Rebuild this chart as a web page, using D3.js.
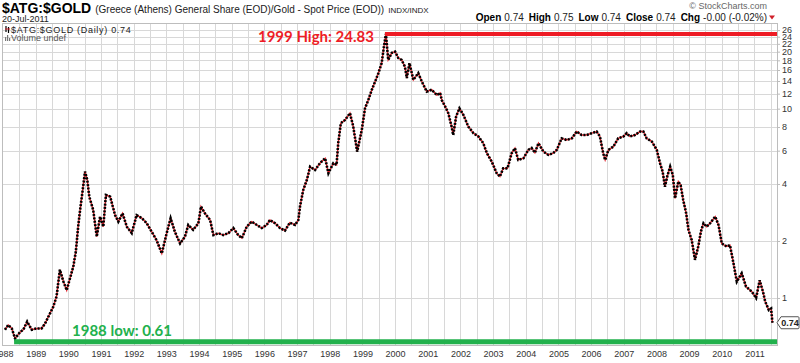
<!DOCTYPE html>
<html>
<head>
<meta charset="utf-8">
<script src="https://cdn.jsdelivr.net/npm/d3@7"></script>
<style>
  body { margin: 0; background: #fff; }
  svg { display: block; font-family: "Liberation Sans", Arial, sans-serif; }
</style>
</head>
<body>
<div class="chart"></div>
<script>
// decimal year and $ATG:$GOLD ratio
const years = [1988.06, 1988.16, 1988.27, 1988.37, 1988.52, 1988.62, 1988.74, 1988.88, 1989.03, 1989.18,
  1989.29, 1989.44, 1989.54, 1989.64, 1989.74, 1989.85, 1989.95, 1990.05, 1990.15, 1990.23,
  1990.30, 1990.36, 1990.44, 1990.51, 1990.58, 1990.64, 1990.76, 1990.87, 1990.97, 1991.07,
  1991.15, 1991.28, 1991.43, 1991.53, 1991.66, 1991.79, 1991.94, 1992.09, 1992.25, 1992.40,
  1992.55, 1992.70, 1992.86, 1993.01, 1993.13, 1993.26, 1993.42, 1993.57, 1993.67, 1993.82,
  1993.98, 1994.06, 1994.18, 1994.34, 1994.44, 1994.59, 1994.74, 1994.90, 1995.05, 1995.20,
  1995.31, 1995.46, 1995.61, 1995.77, 1995.92, 1996.07, 1996.17, 1996.33, 1996.48, 1996.63,
  1996.78, 1996.94, 1997.04, 1997.09, 1997.19, 1997.30, 1997.40, 1997.55, 1997.70, 1997.86,
  1997.96, 1998.11, 1998.21, 1998.26, 1998.34, 1998.47, 1998.62, 1998.72, 1998.80, 1998.84,
  1998.98, 1999.08, 1999.18, 1999.29, 1999.39, 1999.49, 1999.59, 1999.66, 1999.72, 1999.79,
  1999.90, 2000.00, 2000.10, 2000.20, 2000.30, 2000.36, 2000.44, 2000.56, 2000.71, 2000.82,
  2000.97, 2001.12, 2001.28, 2001.38, 2001.43, 2001.53, 2001.63, 2001.73, 2001.78, 2001.87,
  2001.97, 2002.09, 2002.24, 2002.40, 2002.55, 2002.70, 2002.81, 2002.96, 2003.11, 2003.21,
  2003.31, 2003.44, 2003.57, 2003.67, 2003.77, 2003.93, 2004.08, 2004.18, 2004.28, 2004.39,
  2004.54, 2004.69, 2004.84, 2004.95, 2005.10, 2005.25, 2005.41, 2005.56, 2005.71, 2005.87,
  2006.02, 2006.17, 2006.27, 2006.37, 2006.43, 2006.53, 2006.68, 2006.83, 2006.99, 2007.09,
  2007.19, 2007.34, 2007.50, 2007.60, 2007.70, 2007.86, 2008.01, 2008.11, 2008.19, 2008.26,
  2008.33, 2008.42, 2008.50, 2008.57, 2008.67, 2008.74, 2008.82, 2008.91, 2008.98, 2009.08,
  2009.18, 2009.28, 2009.36, 2009.44, 2009.54, 2009.64, 2009.80, 2009.90, 2010.00, 2010.15,
  2010.25, 2010.36, 2010.46, 2010.61, 2010.74, 2010.92, 2011.05, 2011.16, 2011.26, 2011.33,
  2011.44, 2011.51, 2011.55];
const ratio = [0.68, 0.72, 0.69, 0.61, 0.66, 0.68, 0.75, 0.68, 0.69, 0.69,
  0.735, 0.83, 0.90, 1.02, 1.41, 1.22, 1.10, 1.27, 1.46, 1.76,
  2.38, 2.92, 3.72, 4.65, 4.2, 3.43, 2.92, 2.11, 2.69, 2.38,
  3.5, 3.43, 2.74, 2.53, 2.8, 2.38, 2.2, 2.74, 2.64, 2.48,
  2.24, 2.02, 1.72, 2.2, 2.64, 2.24, 1.94, 2.11, 2.43, 2.29,
  2.48, 3.04, 2.8, 2.58, 2.15, 2.2, 2.15, 2.2, 2.34, 2.15,
  2.07, 2.38, 2.53, 2.43, 2.34, 2.43, 2.58, 2.48, 2.34, 2.27,
  2.5, 2.43, 2.58, 3.04, 3.72, 4.2, 4.94, 4.74, 5.15, 5.47,
  4.56, 5.15, 5.05, 6.57, 8.37, 8.72, 9.46, 8.05, 6.57, 5.93,
  7.7, 10.04, 11.1, 12.6, 13.9, 15.4, 17.4, 21.3, 24.83, 18.1,
  19.7, 20.0, 18.5, 18.1, 16.7, 14.5, 17.4, 14.2, 15.4, 13.9,
  12.3, 12.6, 11.8, 12.1, 11.1, 10.3, 9.46, 8.05, 7.26, 9.1,
  10.04, 9.28, 8.05, 7.42, 7.13, 6.57, 5.82, 5.25, 4.56, 4.38,
  4.84, 4.84, 5.82, 6.18, 5.36, 5.47, 6.06, 6.2, 5.85, 6.57,
  5.93, 5.7, 5.82, 6.06, 6.97, 6.83, 6.97, 7.57, 7.26, 7.26,
  7.42, 7.57, 7.13, 5.82, 5.36, 6.06, 6.3, 6.97, 7.13, 7.42,
  7.13, 7.26, 7.57, 7.57, 6.97, 6.7, 6.06, 5.15, 4.65, 3.87,
  4.38, 4.94, 4.47, 3.36, 4.12, 3.95, 3.29, 2.8, 2.29, 2.02,
  1.59, 1.87, 2.24, 2.48, 2.38, 2.48, 2.69, 2.43, 1.94, 1.87,
  1.9, 1.52, 1.22, 1.35, 1.15, 1.08, 1.0, 1.24, 1.08, 0.956,
  0.864, 0.88, 0.74];

const yTicks = [1, 2, 4, 6, 8, 10, 12, 14, 16, 18, 20, 22, 24, 26];
const yearLabels = [1988, 1989, 1990, 1991, 1992, 1993, 1994, 1995, 1996, 1997, 1998, 1999,
  2000, 2001, 2002, 2003, 2004, 2005, 2006, 2007, 2008, 2009, 2010, 2011];

const highValue = 24.83, highYear = 1999.72;
const lowValue = 0.61, lowYear = 1988.37;
const lastValue = 0.74;

const data = years.map((t, i) => ({ t: t, v: ratio[i] }));

const W = 800, H = 363;
const plot = { left: 3, right: 777, top: 24, bottom: 345 };

const svg = d3.select(".chart").append("svg")
    .attr("width", W)
    .attr("height", H);

const x = d3.scaleLinear()
    .domain([1988, 2011.69])
    .range([plot.left, plot.right]);

const y = d3.scaleLog()
    .domain([0.5645, 28])
    .range([plot.bottom, plot.top]);

// grid: half-year verticals, value horizontals
const grid = svg.append("g").attr("stroke", "#d8d8d8").attr("stroke-width", 1);
grid.selectAll(".vg")
    .data(d3.range(1988.5, 2011.6, 0.5))
    .enter().append("line")
    .attr("x1", d => Math.round(x(d)) + 0.5)
    .attr("x2", d => Math.round(x(d)) + 0.5)
    .attr("y1", plot.top)
    .attr("y2", plot.bottom);
grid.selectAll(".hg")
    .data(yTicks)
    .enter().append("line")
    .attr("x1", plot.left)
    .attr("x2", plot.right)
    .attr("y1", d => Math.round(y(d)) + 0.5)
    .attr("y2", d => Math.round(y(d)) + 0.5);

// frame
svg.append("rect")
    .attr("x", plot.left - 0.5)
    .attr("y", plot.top - 0.5)
    .attr("width", plot.right - plot.left + 1)
    .attr("height", plot.bottom - plot.top + 1)
    .attr("fill", "none")
    .attr("stroke", "#bdbdbd");

// right axis
const yAxis = svg.append("g")
    .attr("transform", `translate(${plot.right},0)`)
    .call(d3.axisRight(y).tickValues(yTicks).tickFormat(d3.format("d")).tickSize(3));
yAxis.select(".domain").remove();
yAxis.selectAll("line").attr("stroke", "#bdbdbd");
yAxis.selectAll("text")
    .attr("x", 5)
    .attr("fill", "#333")
    .style("font-size", "9px");

// bottom axis
const xAxis = svg.append("g")
    .attr("transform", `translate(0,${plot.bottom})`)
    .call(d3.axisBottom(x).tickValues(yearLabels).tickFormat(d3.format("d")).tickSize(0));
xAxis.select(".domain").remove();
xAxis.selectAll("text")
    .attr("y", 6)
    .attr("fill", "#333")
    .style("font-size", "9px");

// price series
const line = d3.line()
    .x(d => x(d.t))
    .y(d => y(d.v));

svg.append("path")
    .datum(data)
    .attr("fill", "none")
    .attr("stroke", "#e0202a")
    .attr("stroke-width", 1.4)
    .attr("d", line);

svg.append("path")
    .datum(data)
    .attr("fill", "none")
    .attr("stroke", "#000")
    .attr("stroke-width", 2.6)
    .attr("stroke-dasharray", "2,1.4")
    .attr("d", line);

// high / low annotations
svg.append("line")
    .attr("x1", x(highYear) - 1)
    .attr("x2", plot.right)
    .attr("y1", y(highValue))
    .attr("y2", y(highValue))
    .attr("stroke", "#ee1c25")
    .attr("stroke-width", 4);
svg.append("text")
    .attr("x", x(highYear) - 12)
    .attr("y", y(highValue) + 8)
    .attr("text-anchor", "end")
    .attr("fill", "#ee1c25")
    .style("font-family", "Lato, sans-serif")
    .style("font-weight", "bold")
    .style("font-size", "15px")
    .text("1999 High: " + highValue);

svg.append("line")
    .attr("x1", x(lowYear) - 1)
    .attr("x2", plot.right)
    .attr("y1", y(lowValue) + 3)
    .attr("y2", y(lowValue) + 3)
    .attr("stroke", "#22b14c")
    .attr("stroke-width", 5);
svg.append("text")
    .attr("x", 72)
    .attr("y", y(lowValue) - 3)
    .attr("fill", "#22b14c")
    .style("font-family", "Lato, sans-serif")
    .style("font-weight", "bold")
    .style("font-size", "15px")
    .text("1988 low: " + lowValue);

// last value tag
const ly = y(lastValue);
const tag = svg.append("g").attr("transform", `translate(${plot.right},${ly})`);
tag.append("path")
    .attr("d", "M0,0 L4,-6 L21,-6 Q22,-6 22,-5 L22,5 Q22,6 21,6 L4,6 Z")
    .attr("fill", "#fff")
    .attr("stroke", "#555");
tag.append("text")
    .attr("x", 13)
    .attr("y", 3.5)
    .attr("text-anchor", "middle")
    .attr("fill", "#222")
    .style("font-size", "9px")
    .style("font-weight", "bold")
    .text(lastValue.toFixed(2));

// header
const head = svg.append("text").attr("x", 2).attr("y", 13).attr("fill", "#000");
head.append("tspan").style("font-weight", "bold").style("font-size", "14px").text("$ATG:$GOLD");
head.append("tspan").attr("dx", 4).style("font-size", "10px").attr("fill", "#222")
    .text("(Greece (Athens) General Share (EOD)/Gold - Spot Price (EOD))");
head.append("tspan").attr("dx", 4).style("font-size", "8px").attr("fill", "#222").text("INDX/INDX");

svg.append("text")
    .attr("x", 2).attr("y", 22)
    .style("font-size", "9px")
    .attr("fill", "#222")
    .text("20-Jul-2011");

svg.append("text")
    .attr("x", 767).attr("y", 9)
    .attr("text-anchor", "end")
    .style("font-size", "9px")
    .attr("fill", "#666")
    .text("\u00a9 StockCharts.com");

const quote = [["Open", "0.74"], ["High", "0.75"], ["Low", "0.74"], ["Close", "0.74"], ["Chg", "-0.00 (-0.02%)"]];
const qt = svg.append("text")
    .attr("x", 767).attr("y", 21)
    .attr("text-anchor", "end")
    .style("font-size", "10px")
    .attr("fill", "#222");
quote.forEach((q, i) => {
    qt.append("tspan").attr("dx", i ? 5 : 0).style("font-weight", "bold").attr("fill", "#000").text(q[0]);
    qt.append("tspan").attr("dx", 3).text(q[1]);
});
svg.append("path")
    .attr("d", "M769,15.5 L775,15.5 L772,19.5 Z")
    .attr("fill", "#d0202a");

// legend inside the plot
const leg = svg.append("g").attr("transform", "translate(5,26)");
leg.append("line").attr("x1", 1).attr("x2", 1).attr("y1", 0).attr("y2", 6).attr("stroke", "#000").attr("stroke-width", 1.2);
leg.append("line").attr("x1", 3.5).attr("x2", 3.5).attr("y1", 1).attr("y2", 7).attr("stroke", "#000").attr("stroke-width", 1.2);
leg.append("line").attr("x1", 0).attr("x2", 5).attr("y1", 3).attr("y2", 3).attr("stroke", "#d0202a").attr("stroke-width", 1);
leg.append("text")
    .attr("x", 6).attr("y", 6.5)
    .style("font-size", "9px")
    .style("letter-spacing", "0.7px")
    .attr("fill", "#222")
    .text("$ATG:$GOLD (Daily) 0.74");
leg.selectAll(".vb")
    .data([4, 6, 3])
    .enter().append("rect")
    .attr("x", (d, i) => i * 2)
    .attr("y", d => 15 - d)
    .attr("width", 1.2)
    .attr("height", d => d)
    .attr("fill", "#777");
leg.append("text")
    .attr("x", 6).attr("y", 15)
    .style("font-size", "9px")
    .attr("fill", "#555")
    .text("Volume undef");
</script>
</body>
</html>
